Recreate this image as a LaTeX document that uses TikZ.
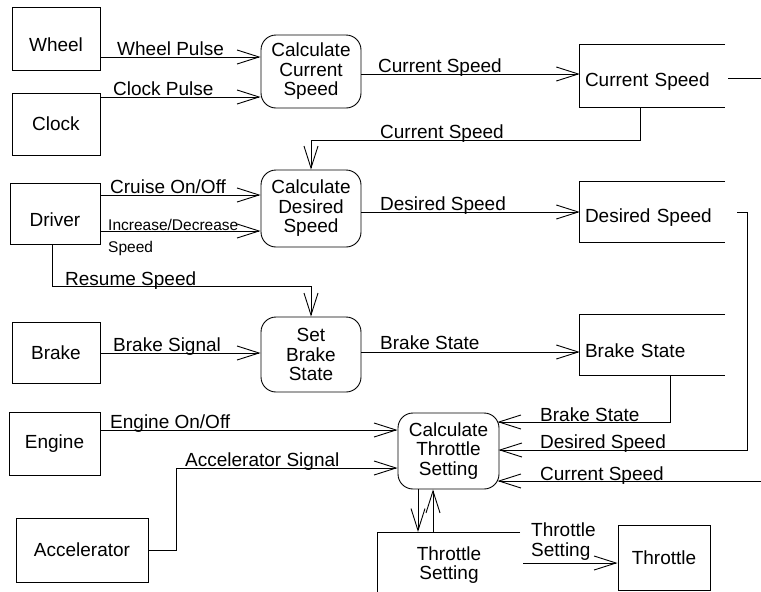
\documentclass[tikz,border=0pt]{standalone}
\usepackage{fontspec}
\setmainfont{Liberation Sans}
\usetikzlibrary{arrows.meta}
\begin{document}
\begin{tikzpicture}[x=1pt,y=-1pt,
  every node/.style={font=\fontsize{19}{19.5}\selectfont},
  entity/.style={draw, rectangle, inner sep=0pt, line width=0.9pt},
  proc/.style={draw, rectangle, rounded corners=15pt, align=center,
    minimum width=100pt, inner sep=0pt, line width=0.9pt},
  store/.style={rectangle, inner sep=0pt, minimum width=145pt,
    text width=135pt, align=left, text height=25pt},
  lowtext/.style={text height=25pt, text depth=0pt},
  lbl/.style={anchor=base west, inner sep=0pt},
  small/.style={font=\fontsize{15.5}{17}\selectfont},
  conn/.style={line width=0.9pt},
  flow/.style={line width=0.9pt, -{Straight Barb[length=22pt,width=14pt]}}
]
\useasboundingbox (0,0) rectangle (761,592);

% external entities
\node[entity, lowtext, minimum width=88pt, minimum height=63pt] (wheel) at (56,38.5) {Wheel};
\node[entity, minimum width=88pt, minimum height=62pt] (clock) at (56,124) {Clock};
\node[entity, lowtext, minimum width=90pt, minimum height=61pt] (driver) at (55,213.5) {Driver};
\node[entity, minimum width=88pt, minimum height=61pt] (brake) at (56,352.5) {Brake};
\node[entity, minimum width=91pt, minimum height=63pt] (engine) at (54.5,443.5) {Engine};
\node[entity, minimum width=132pt, minimum height=64pt] (accel) at (82,550) {Accelerator};
\node[entity, minimum width=92pt, minimum height=65pt] (throttle) at (664,557.5) {Throttle};

% processes
\node[proc, minimum height=73pt] (ccs) at (311,71.5) {Calculate\\Current\\Speed};
\node[proc, minimum height=77pt] (cds) at (311,208.5) {Calculate\\Desired\\Speed};
\node[proc, minimum height=75pt] (sbs) at (311,354.5) {Set\\Brake\\State};
\node[proc, minimum width=101pt, minimum height=76pt] (cts) at (448.5,451) {Calculate\\Throttle\\Setting};

% data stores (open on one side)
\node[store, minimum height=62pt] (curs) at (652.5,76) {Current Speed};
\node[store, minimum height=60pt] (dess) at (652.5,212) {Desired Speed};
\node[store, minimum height=60pt] (brs) at (652.5,345) {Brake State};
\node[rectangle, inner sep=0pt, minimum width=142pt, minimum height=60pt, align=center] (ths) at (449,565) {Throttle\\Setting};
\foreach \s in {curs,dess,brs}
  \draw[conn] (\s.north east) -- (\s.north west) -- (\s.south west) -- (\s.south east);
\draw[conn] (ths.north east |- 0,532) -- (ths.north west |- 0,532) -- (ths.south west);

% free ends of connectors
\coordinate (curout) at (761,78);
\coordinate (curin) at (761,481);
\coordinate (thsout) at (523,563);

% flows into Calculate Current Speed
\draw[flow] (wheel.east |- 0,57) -- (ccs.west |- 0,57);
\node[lbl] (lwp) at (117,55) {Wheel Pulse};
\draw[flow] (clock.east |- 0,97) -- (ccs.west |- 0,97);
\node[lbl] (lcp) at (113,95) {Clock Pulse};

% Current Speed
\draw[flow] (ccs.east |- 0,74) -- (curs.west |- 0,74);
\node[lbl] (lcs1) at (378,72) {Current Speed};
\draw[conn] ([xshift=3pt]curs.east |- 0,78) -- (curout);
\draw[flow] (curs.south -| 640,0) -- (640,140) -| (cds.north);
\node[lbl] (lcs2) at (380,138) {Current Speed};

% Driver inputs
\draw[flow] (driver.east |- 0,195) -- (cds.west |- 0,195);
\node[lbl] (lco) at (110,193) {Cruise On/Off};
\draw[flow] (driver.east |- 0,231) -- (cds.west |- 0,231);
\node[lbl, small] (lid) at (108,230) {Increase/Decrease};
\node[lbl, small] (lids) at (108,252) {Speed};
\draw[flow] (driver.south -| 52,0) -- (52,286) -| (sbs.north);
\node[lbl] (lrs) at (65,285) {Resume Speed};

% Desired Speed
\draw[flow] (cds.east |- 0,212) -- (dess.west |- 0,212);
\node[lbl] (lds1) at (380,210) {Desired Speed};
\draw[flow] ([xshift=12pt]dess.east) -- ++(10,0) |- ([xshift=-1pt]cts.east |- 0,450);
\node[lbl] (lds2) at (540,448) {Desired Speed};

% Brake
\draw[flow] (brake.east |- 0,353) -- (sbs.west |- 0,353);
\node[lbl] (lbs) at (113,351) {Brake Signal};
\draw[flow] (sbs.east |- 0,352) -- (brs.west |- 0,352);
\node[lbl] (lbst1) at (380,349) {Brake State};
\draw[flow] (brs.south -| 670,0) |- ([xshift=-2pt]cts.east |- 0,422);
\node[lbl] (lbst2) at (540,421) {Brake State};

% Current Speed into Calculate Throttle Setting
\draw[flow] (curin) -- ([xshift=-2pt]cts.east |- 0,481);
\node[lbl] (lcs3) at (540,480) {Current Speed};

% Engine and Accelerator
\draw[flow] (engine.east |- 0,430) -- (cts.west |- 0,430);
\node[lbl] (leo) at (110,428) {Engine On/Off};
\draw[flow] (accel.east) -- (176,550) |- (cts.west |- 0,468);
\node[lbl] (las) at (185,466) {Accelerator Signal};

% Throttle Setting
\draw[flow] (cts.south -| 418,0) -- (418,532);
\draw[flow] (433,532) -- (cts.south -| 433,0);
\draw[flow] (thsout) -- (throttle.west |- 0,563);
\node[lbl, align=left] (lts) at (531,556) {Throttle\\Setting};
\end{tikzpicture}
\end{document}
